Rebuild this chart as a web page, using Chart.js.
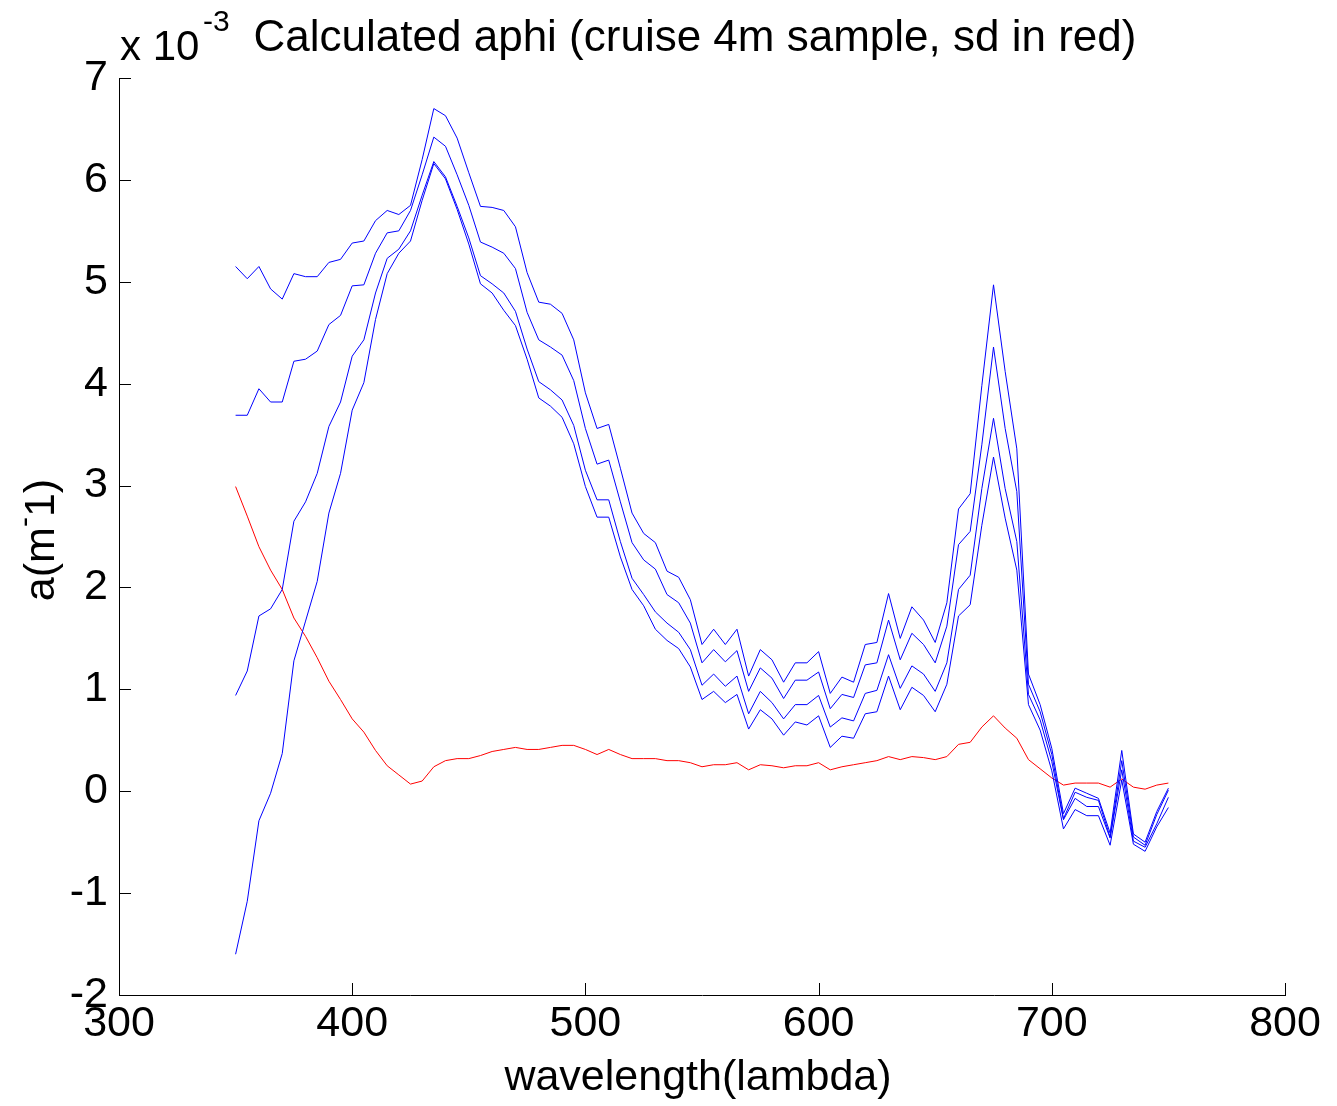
<!DOCTYPE html>
<html>
<head>
<meta charset="utf-8">
<script src="https://cdn.jsdelivr.net/npm/chart.js@4/dist/chart.umd.min.js"></script>
<style>
  html, body { margin: 0; padding: 0; background: #fff; }
  #wrap { width: 1337px; height: 1106px; position: relative; }
</style>
</head>
<body>
<div id="wrap"><canvas id="c" width="1337" height="1106"></canvas></div>
<script>
// Calculated aphi, cruise 4m sample: four blue spectra plus the sd in red.
// Values are in units of 1e-3 m^-1 (the axis carries the "x 10^-3" note).
const wavelength = [];
for (let w = 350; w <= 750; w += 5) wavelength.push(w);

const aphi1 = [
  5.15, 5.03, 5.15, 4.93, 4.83, 5.08, 5.05, 5.05, 5.19, 5.22,
  5.38, 5.40, 5.60, 5.70, 5.66, 5.75, 6.20, 6.70, 6.63, 6.41,
  6.07, 5.74, 5.73, 5.70, 5.54, 5.09, 4.80, 4.78, 4.69, 4.43,
  3.91, 3.56, 3.60, 3.17, 2.73, 2.53, 2.44, 2.16, 2.10, 1.88,
  1.44, 1.59, 1.44, 1.59, 1.13, 1.39, 1.29, 1.07, 1.26, 1.26,
  1.37, 0.96, 1.12, 1.07, 1.44, 1.46, 1.94, 1.50, 1.81, 1.68,
  1.46, 1.85, 2.77, 2.92, 3.98, 4.97, 4.12, 3.36, 1.15, 0.85,
  0.42, -0.22, 0.03, -0.02, -0.07, -0.41, 0.40, -0.42, -0.50, -0.20,
  0.03
];
const aphi2 = [
  3.69, 3.69, 3.95, 3.82, 3.82, 4.22, 4.24, 4.32, 4.58, 4.67,
  4.96, 4.97, 5.28, 5.48, 5.50, 5.70, 6.05, 6.42, 6.33, 6.05,
  5.75, 5.39, 5.34, 5.28, 5.13, 4.70, 4.43, 4.36, 4.28, 4.03,
  3.56, 3.21, 3.25, 2.84, 2.44, 2.27, 2.18, 1.93, 1.85, 1.65,
  1.26, 1.39, 1.27, 1.38, 0.98, 1.21, 1.11, 0.91, 1.09, 1.09,
  1.17, 0.81, 0.95, 0.92, 1.24, 1.26, 1.68, 1.29, 1.55, 1.44,
  1.26, 1.62, 2.42, 2.55, 3.40, 4.36, 3.56, 2.94, 1.05, 0.78,
  0.36, -0.27, -0.01, -0.06, -0.09, -0.45, 0.30, -0.45, -0.53, -0.23,
  0.01
];
const aphi3 = [
  0.94, 1.18, 1.72, 1.79, 1.98, 2.65, 2.84, 3.12, 3.58, 3.82,
  4.27, 4.43, 4.89, 5.23, 5.32, 5.50, 5.85, 6.18, 6.03, 5.74,
  5.43, 5.06, 4.98, 4.89, 4.71, 4.34, 4.02, 3.94, 3.84, 3.59,
  3.15, 2.86, 2.86, 2.45, 2.09, 1.93, 1.76, 1.65, 1.56, 1.39,
  1.04, 1.15, 1.03, 1.13, 0.76, 0.98, 0.87, 0.71, 0.85, 0.85,
  0.94, 0.63, 0.72, 0.69, 0.96, 0.99, 1.34, 1.01, 1.23, 1.15,
  0.98, 1.26, 1.98, 2.12, 2.97, 3.66, 2.97, 2.45, 0.95, 0.70,
  0.29, -0.28, -0.07, -0.15, -0.15, -0.46, 0.21, -0.49, -0.55, -0.32,
  -0.06
];
const aphi4 = [
  -1.60, -1.08, -0.29, -0.02, 0.37, 1.28, 1.67, 2.06, 2.73, 3.12,
  3.74, 4.01, 4.63, 5.08, 5.28, 5.40, 5.80, 6.16, 6.01, 5.71,
  5.37, 4.98, 4.89, 4.72, 4.57, 4.24, 3.86, 3.78, 3.67, 3.41,
  2.99, 2.69, 2.69, 2.30, 1.98, 1.82, 1.59, 1.48, 1.40, 1.22,
  0.90, 0.98, 0.87, 0.95, 0.61, 0.80, 0.71, 0.55, 0.68, 0.65,
  0.74, 0.43, 0.54, 0.52, 0.76, 0.78, 1.13, 0.80, 1.02, 0.94,
  0.78, 1.05, 1.72, 1.83, 2.61, 3.28, 2.68, 2.17, 0.85, 0.60,
  0.20, -0.37, -0.18, -0.24, -0.24, -0.53, 0.11, -0.52, -0.59, -0.35,
  -0.16
];
const aphiSd = [
  2.99, 2.70, 2.40, 2.17, 1.98, 1.70, 1.52, 1.31, 1.08, 0.90,
  0.71, 0.58, 0.40, 0.25, 0.16, 0.07, 0.10, 0.24, 0.30, 0.32,
  0.32, 0.35, 0.39, 0.41, 0.43, 0.41, 0.41, 0.43, 0.45, 0.45,
  0.41, 0.36, 0.41, 0.36, 0.32, 0.32, 0.32, 0.30, 0.30, 0.28,
  0.24, 0.26, 0.26, 0.28, 0.21, 0.26, 0.25, 0.23, 0.25, 0.25,
  0.28, 0.21, 0.24, 0.26, 0.28, 0.30, 0.34, 0.31, 0.34, 0.33,
  0.31, 0.34, 0.46, 0.48, 0.63, 0.74, 0.62, 0.52, 0.31, 0.22,
  0.13, 0.06, 0.08, 0.08, 0.08, 0.04, 0.12, 0.04, 0.02, 0.06,
  0.08
];

const xTicks = [300, 400, 500, 600, 700, 800];
const yTicks = [-2, -1, 0, 1, 2, 3, 4, 5, 6, 7];

const FONT = "'Liberation Sans', Arial, sans-serif";
const pts = (ys) => wavelength.map((w, i) => ({ x: w, y: ys[i] }));
const line = (ys, color) => ({
  data: pts(ys),
  borderColor: color,
  borderWidth: 1,
  pointRadius: 0,
  tension: 0,
  fill: false,
});

// Inward tick marks + the MATLAB-style annotations (title, exponent, labels).
const decorations = {
  id: "decorations",
  afterDraw(chart) {
    const { ctx, chartArea: a, scales } = chart;
    ctx.save();
    ctx.strokeStyle = "#000";
    ctx.lineWidth = 1;
    ctx.beginPath();
    for (const v of yTicks) {
      const y = Math.round(scales.y.getPixelForValue(v)) + 0.5;
      ctx.moveTo(a.left, y); ctx.lineTo(a.left + 12, y);
    }
    for (const v of xTicks) {
      const x = Math.round(scales.x.getPixelForValue(v)) + 0.5;
      ctx.moveTo(x, a.bottom); ctx.lineTo(x, a.bottom - 12);
    }
    ctx.stroke();

    ctx.fillStyle = "#000";
    ctx.textBaseline = "alphabetic";
    ctx.textAlign = "left";
    ctx.font = `42px ${FONT}`;
    ctx.fillText("x 10", 120, 60);
    ctx.font = `30px ${FONT}`;
    ctx.fillText("-3", 203, 31);
    ctx.font = `44px ${FONT}`;
    ctx.textAlign = "center";
    ctx.fillText("Calculated aphi (cruise 4m sample, sd in red)", 695, 51);

    ctx.font = `43px ${FONT}`;
    ctx.fillText("wavelength(lambda)", 698, 1090);

    // y label: a(m^-1) rotated
    ctx.translate(54, 540);
    ctx.rotate(-Math.PI / 2);
    ctx.textAlign = "left";
    ctx.font = `43px ${FONT}`;
    const p1 = "a(m", p2 = "-", p3 = "1)";
    const w1 = ctx.measureText(p1).width;
    ctx.font = `30px ${FONT}`;
    const w2 = ctx.measureText(p2).width;
    ctx.font = `43px ${FONT}`;
    const w3 = ctx.measureText(p3).width;
    let x0 = -(w1 + w2 + w3) / 2;
    ctx.fillText(p1, x0, 0);
    ctx.font = `30px ${FONT}`;
    ctx.fillText(p2, x0 + w1, -20);
    ctx.font = `43px ${FONT}`;
    ctx.fillText(p3, x0 + w1 + w2, 0);
    ctx.restore();
  },
};

new Chart(document.getElementById("c"), {
  type: "line",
  data: {
    datasets: [
      line(aphi1, "#0000ff"),
      line(aphi2, "#0000ff"),
      line(aphi3, "#0000ff"),
      line(aphi4, "#0000ff"),
      line(aphiSd, "#ff0000"),
    ],
  },
  options: {
    responsive: false,
    animation: false,
    layout: { padding: { top: 78, right: 52, left: 0, bottom: 0 } },
    plugins: { legend: { display: false }, tooltip: { enabled: false }, title: { display: false } },
    scales: {
      x: {
        type: "linear",
        min: 300, max: 800,
        afterBuildTicks: (s) => { s.ticks = xTicks.map((v) => ({ value: v })); },
        afterFit: (s) => { s.height = 111; },
        ticks: { color: "#000", font: { family: FONT, size: 43 }, padding: 3, maxRotation: 0, autoSkip: false },
        grid: { display: false, drawTicks: false },
        border: { display: true, color: "#000", width: 1 },
      },
      y: {
        type: "linear",
        min: -2, max: 7,
        afterBuildTicks: (s) => { s.ticks = yTicks.map((v) => ({ value: v })); },
        afterFit: (s) => { s.width = 119; },
        ticks: { color: "#000", font: { family: FONT, size: 43 }, padding: 11, autoSkip: false },
        grid: { display: false, drawTicks: false },
        border: { display: true, color: "#000", width: 1 },
      },
    },
  },
  plugins: [decorations],
});
</script>
</body>
</html>
